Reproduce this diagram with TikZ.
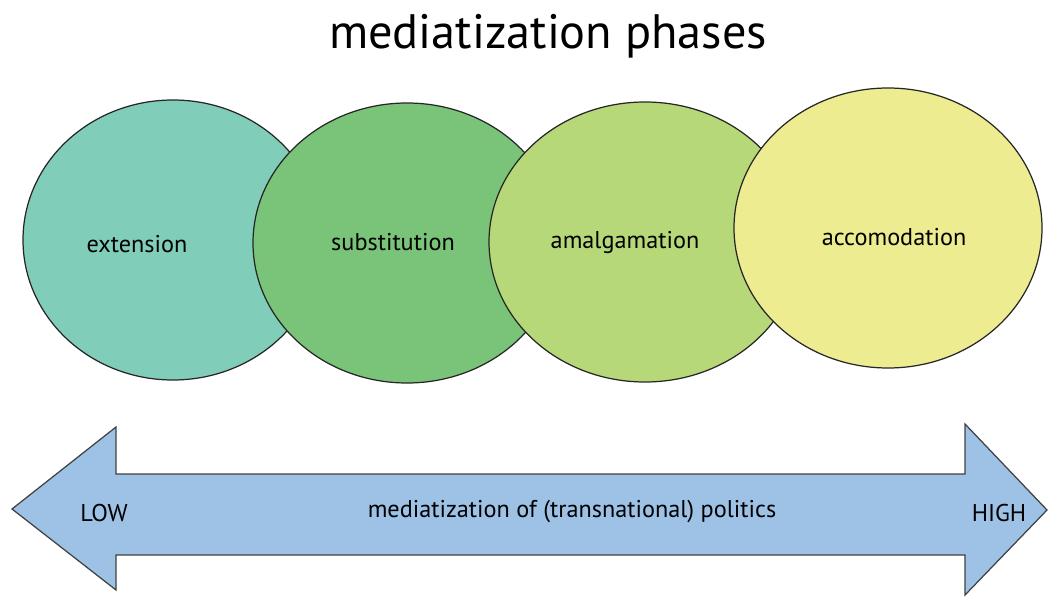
\documentclass[tikz,border=0pt]{standalone}
\usepackage{fontspec}
\setmainfont{PT Sans}
\usepackage{tikz}
\definecolor{extensionteal}{HTML}{80CDB9}
\definecolor{substitutiongreen}{HTML}{7AC47A}
\definecolor{amalgamationlime}{HTML}{B6D878}
\definecolor{accomodationyellow}{HTML}{EDEC91}
\definecolor{arrowblue}{HTML}{9DC2E5}
\tikzset{phase/.style={draw=black!85, line width=0.7pt}}
\tikzset{label/.style={font=\fontsize{13.8}{16}\selectfont, text=black}}

\begin{document}
\begin{tikzpicture}[x=0.02cm, y=-0.02cm]
            \useasboundingbox (0, 0) rectangle (1050, 597);
            \node (title) at (548, 36) {\fontsize{27.5}{32}\selectfont mediatization phases};
            % the four phases, each one lying over the one before
            \draw[phase, fill=extensionteal] (173, 240) ellipse [x radius=150, y radius=140];
            \draw[phase, fill=substitutiongreen] (407, 243) ellipse [x radius=154, y radius=140];
            \draw[phase, fill=amalgamationlime] (645, 242) ellipse [x radius=156, y radius=140];
            \draw[phase, fill=accomodationyellow] (888, 228) ellipse [x radius=154, y radius=140];
            \node[label] (extension) at (137, 244) {extension};
            \node[label] (substitution) at (393, 242) {substitution};
            \node[label] (amalgamation) at (625, 242) {amalgamation};
            \node[label] (accomodation) at (894, 237) {accomodation};
            % double arrow from low to high
            \draw[fill=arrowblue, draw=black!75, line width=0.7pt, line join=miter] (12, 509) -- (116, 427) -- (116, 474)
            -- (965, 474) -- (965, 424) -- (1047, 510) -- (965, 595) -- (965, 555) -- (116, 555) -- (116, 590) -- cycle;
            \node[label] (low) at (104, 513) {LOW};
            \node[label] (high) at (999, 513) {HIGH};
            \node[label] (politics) at (572, 512) {mediatization of (transnational) politics};
        \end{tikzpicture}
\end{document}
